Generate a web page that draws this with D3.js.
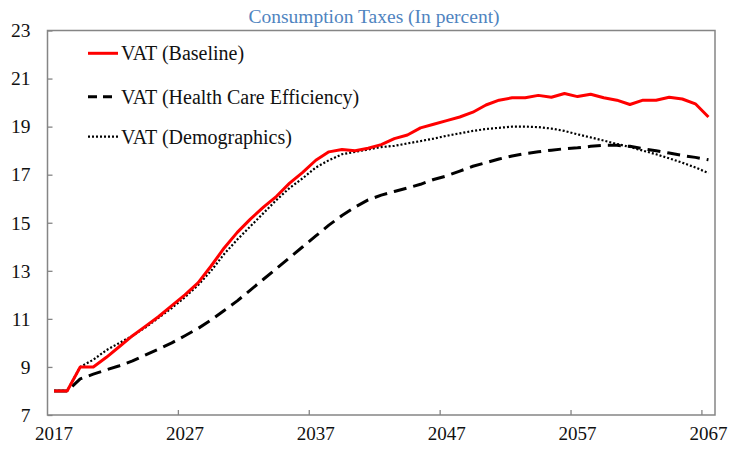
<!DOCTYPE html>
<html>
<head>
<meta charset="utf-8">
<script src="https://cdn.jsdelivr.net/npm/d3@7"></script>
<style>
  html, body { margin: 0; padding: 0; background: #fff; overflow: hidden; }
  svg { display: block; }
  text { font-family: "Liberation Serif", "Times New Roman", serif; }
</style>
</head>
<body>
<script>

// data

const years = d3.range(2017, 2068);

const baseline = [8.0, 8.0, 9.0, 9.0, 9.4, 9.85, 10.3, 10.7, 11.1, 11.55,
  12.0, 12.5, 13.2, 13.95, 14.6, 15.15, 15.65, 16.1, 16.65, 17.1,
  17.6, 17.95, 18.05, 18.0, 18.1, 18.25, 18.5, 18.65, 18.95, 19.1,
  19.25, 19.4, 19.6, 19.9, 20.1, 20.2, 20.2, 20.3, 20.22, 20.38,
  20.25, 20.35, 20.2, 20.1, 19.92, 20.1, 20.1, 20.22, 20.15, 19.95,
  19.4];

const healthCare = [8.0, 8.0, 8.5, 8.7, 8.88, 9.05, 9.25, 9.5, 9.75, 10.0,
  10.3, 10.6, 10.95, 11.35, 11.75, 12.2, 12.65, 13.1, 13.55, 14.0,
  14.45, 14.9, 15.3, 15.65, 15.95, 16.15, 16.3, 16.45, 16.6, 16.8,
  16.95, 17.15, 17.35, 17.5, 17.65, 17.78, 17.88, 17.95, 18.02, 18.08,
  18.12, 18.18, 18.22, 18.22, 18.18, 18.08, 18.0, 17.9, 17.8, 17.72,
  17.62];

const demographics = [8.0, 8.0, 9.0, 9.3, 9.7, 10.0, 10.3, 10.65, 11.05, 11.45,
  11.9, 12.4, 13.0, 13.7, 14.3, 14.85, 15.4, 15.95, 16.45, 16.85,
  17.3, 17.6, 17.85, 17.95, 18.05, 18.15, 18.2, 18.3, 18.4, 18.5,
  18.62, 18.72, 18.82, 18.9, 18.95, 19.0, 19.0, 18.98, 18.92, 18.82,
  18.68, 18.55, 18.42, 18.28, 18.15, 18.0, 17.85, 17.68, 17.5, 17.3,
  17.07];

const seriesNames = ["VAT (Baseline)", "VAT (Health Care Efficiency)", "VAT (Demographics)"];
const xTickYears = [2017, 2027, 2037, 2047, 2057, 2067];
const yTicks = [7, 9, 11, 13, 15, 17, 19, 21, 23];
const subtitle = "Consumption Taxes (In percent)";

// layout

const w = 729;
const h = 450;
const margin = {top: 30.5, right: 14, bottom: 35, left: 47.5};
const innerWidth = w - margin.left - margin.right;
const innerHeight = h - margin.top - margin.bottom;

const styles = [
  {color: "#ff0000", width: 3, dash: null, legendDash: null},
  {color: "#000000", width: 3, dash: "13,7", legendDash: "9,6"},
  {color: "#000000", width: 2.2, dash: "2,2", legendDash: "2,2"}
];

const xPoint = d3.scalePoint()
    .domain(years)
    .range([0, innerWidth])
    .padding(0.5);

const xBand = d3.scaleBand()
    .domain(years)
    .range([0, innerWidth]);

const yScale = d3.scaleLinear()
    .domain([7, 23])
    .range([innerHeight, 0]);

const svg = d3.select("body")
  .append("svg")
    .attr("width", w)
    .attr("height", h);

svg.append("rect")
    .attr("width", w)
    .attr("height", h)
    .attr("fill", "#fff");

// subtitle

svg.append("text")
    .attr("x", 374)
    .attr("y", 22.5)
    .attr("text-anchor", "middle")
    .attr("font-size", 19.5)
    .attr("fill", "#4f84c0")
    .text(subtitle);

const g = svg.append("g")
    .attr("transform", `translate(${margin.left}, ${margin.top})`);

// frame

g.append("rect")
    .attr("width", innerWidth)
    .attr("height", innerHeight)
    .attr("fill", "none")
    .attr("stroke", "#858585")
    .attr("stroke-width", 1.5);

// axes

const yAxis = d3.axisLeft(yScale)
    .tickValues(yTicks)
    .tickSize(-5)
    .tickPadding(17)
    .tickFormat(d3.format("d"));

g.append("g")
    .attr("class", "yAxis")
    .call(yAxis)
    .call(s => s.select(".domain").remove())
    .call(s => s.selectAll("line").attr("stroke", "#858585").attr("stroke-width", 1.3))
    .call(s => s.selectAll("text").attr("font-size", 19.5).attr("fill", "#111"));

const xAxis = d3.axisBottom(xBand)
    .tickValues(xTickYears)
    .tickSize(-5)
    .tickPadding(11.5);

g.append("g")
    .attr("class", "xAxis")
    .attr("transform", `translate(0, ${innerHeight})`)
    .call(xAxis)
    .call(s => s.select(".domain").remove())
    .call(s => s.selectAll("line")
        .attr("x1", -xBand.bandwidth() / 2)
        .attr("x2", -xBand.bandwidth() / 2)
        .attr("stroke", "#858585").attr("stroke-width", 1.3))
    .call(s => s.selectAll(".tick").filter(d => d === 2017).select("line").remove())
    .call(s => s.selectAll("text").attr("font-size", 19).attr("fill", "#111"));

// lines

const allSeries = [baseline, healthCare, demographics];

const line = d3.line()
    .x((d, i) => xPoint(years[i]))
    .y(d => yScale(d));

const drawOrder = [2, 1, 0];
drawOrder.forEach(k => {
  g.append("path")
      .datum(allSeries[k])
      .attr("fill", "none")
      .attr("stroke", styles[k].color)
      .attr("stroke-width", styles[k].width)
      .attr("stroke-dasharray", styles[k].dash)
      .attr("stroke-linejoin", "round")
      .attr("d", line);
});

// legend

const legendY = [53.3, 96.7, 136.7];
const legend = svg.append("g");

seriesNames.forEach((name, k) => {
  legend.append("line")
      .attr("x1", 88)
      .attr("x2", 118)
      .attr("y1", legendY[k])
      .attr("y2", legendY[k])
      .attr("stroke", styles[k].color)
      .attr("stroke-width", styles[k].width)
      .attr("stroke-dasharray", styles[k].legendDash);

  legend.append("text")
      .attr("x", 121)
      .attr("y", legendY[k])
      .attr("dy", "0.35em")
      .attr("font-size", 20)
      .attr("fill", "#111")
      .text(name);
});

</script>
</body>
</html>
